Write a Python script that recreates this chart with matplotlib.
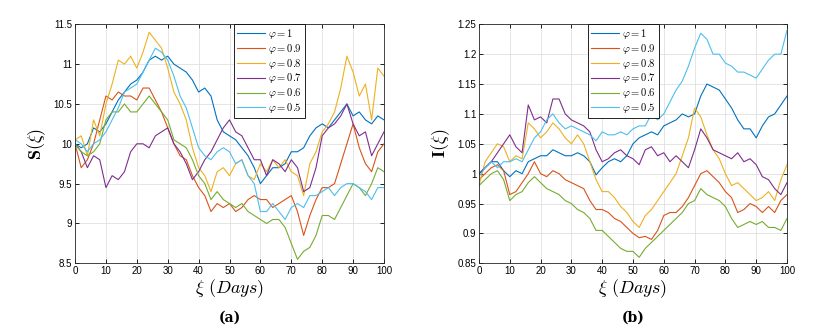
import numpy as np
import matplotlib
matplotlib.use("Agg")
import matplotlib.pyplot as plt

plt.rcParams['mathtext.fontset'] = 'cm'
plt.rcParams['font.family'] = ['Liberation Sans', 'DejaVu Sans']

# --- data (every 2 days) ---
days = np.arange(0, 101, 2)
phi_labels = [r'$\varphi = 1$', r'$\varphi = 0.9$', r'$\varphi = 0.8$',
              r'$\varphi = 0.7$', r'$\varphi = 0.6$', r'$\varphi = 0.5$']

S_phi10 = [10.0, 9.95, 10.0, 10.2, 10.15, 10.25, 10.4, 10.55, 10.65, 10.75, 10.8,
           10.9, 11.05, 11.1, 11.05, 11.1, 11.0, 10.95, 10.9, 10.8, 10.65, 10.7,
           10.6, 10.3, 10.15, 10.1, 10.05, 9.95, 9.85, 9.7, 9.5, 9.6, 9.7, 9.7,
           9.75, 9.9, 9.9, 9.95, 10.1, 10.2, 10.25, 10.2, 10.3, 10.4, 10.5, 10.35,
           10.4, 10.3, 10.25, 10.35, 10.3]
S_phi09 = [10.0, 9.7, 9.8, 10.0, 10.3, 10.6, 10.55, 10.65, 10.6, 10.6, 10.55,
           10.7, 10.7, 10.55, 10.4, 10.2, 10.0, 9.85, 9.8, 9.6, 9.45, 9.35, 9.15,
           9.25, 9.2, 9.25, 9.15, 9.2, 9.3, 9.35, 9.3, 9.3, 9.2, 9.25, 9.3, 9.35,
           9.15, 8.85, 9.1, 9.3, 9.45, 9.45, 9.5, 9.75, 10.0, 10.25, 9.95, 9.75,
           9.65, 9.9, 10.0]
S_phi08 = [10.05, 10.1, 9.85, 10.3, 10.1, 10.5, 10.75, 11.05, 11.0, 11.1, 10.95,
           11.15, 11.4, 11.3, 11.2, 10.95, 10.65, 10.5, 10.3, 9.95, 9.7, 9.6, 9.4,
           9.65, 9.7, 9.6, 9.75, 9.8, 9.6, 9.55, 9.75, 9.65, 9.8, 9.7, 9.8, 9.65,
           9.6, 9.35, 9.75, 9.9, 10.15, 10.25, 10.4, 10.7, 11.1, 10.9, 10.6, 10.75,
           10.3, 10.95, 10.85]
S_phi07 = [10.0, 9.9, 9.7, 9.85, 9.8, 9.45, 9.6, 9.55, 9.65, 9.9, 10.0, 10.0,
           9.95, 10.1, 10.15, 10.2, 10.0, 9.9, 9.75, 9.55, 9.65, 9.8, 9.9, 10.05,
           10.2, 10.3, 10.15, 10.1, 9.95, 9.8, 9.8, 9.6, 9.8, 9.75, 9.65, 9.8, 9.7,
           9.4, 9.45, 9.7, 10.1, 10.2, 10.25, 10.35, 10.5, 10.25, 10.1, 10.15,
           9.85, 10.0, 10.15]
S_phi06 = [10.0, 9.9, 9.85, 9.9, 10.0, 10.3, 10.4, 10.4, 10.5, 10.4, 10.4, 10.5,
           10.6, 10.5, 10.4, 10.3, 10.05, 10.0, 9.95, 9.8, 9.6, 9.5, 9.3, 9.4,
           9.3, 9.25, 9.2, 9.25, 9.15, 9.1, 9.05, 9.0, 9.05, 9.05, 8.95, 8.75,
           8.55, 8.65, 8.7, 8.85, 9.1, 9.1, 9.05, 9.2, 9.35, 9.5, 9.45, 9.35, 9.5,
           9.7, 9.65]
S_phi05 = [10.05, 10.0, 9.9, 10.0, 10.05, 10.15, 10.3, 10.45, 10.65, 10.7, 10.75,
           10.9, 11.05, 11.2, 11.15, 11.05, 10.85, 10.6, 10.45, 10.2, 9.95, 9.85,
           9.8, 9.9, 9.95, 9.9, 9.75, 9.8, 9.6, 9.5, 9.15, 9.15, 9.25, 9.15, 9.05,
           9.2, 9.25, 9.2, 9.35, 9.35, 9.4, 9.45, 9.35, 9.45, 9.5, 9.5, 9.45, 9.4,
           9.3, 9.45, 9.45]

I_phi10 = [1.0, 1.01, 1.02, 1.02, 1.005, 0.995, 1.005, 1.0, 1.02, 1.025, 1.03,
           1.03, 1.04, 1.035, 1.03, 1.03, 1.035, 1.03, 1.02, 0.998, 1.01, 1.02,
           1.025, 1.02, 1.03, 1.05, 1.06, 1.065, 1.07, 1.065, 1.08, 1.085, 1.09,
           1.1, 1.095, 1.1, 1.13, 1.15, 1.145, 1.14, 1.125, 1.11, 1.09, 1.075,
           1.075, 1.06, 1.08, 1.095, 1.1, 1.115, 1.13]
I_phi09 = [0.99, 1.0, 1.01, 1.015, 1.005, 0.965, 0.97, 0.985, 1.0, 1.02, 1.0,
           0.995, 1.005, 1.0, 0.99, 0.985, 0.98, 0.975, 0.955, 0.94, 0.94, 0.935,
           0.925, 0.92, 0.91, 0.9, 0.893, 0.895, 0.89, 0.905, 0.93, 0.935, 0.935,
           0.945, 0.96, 0.98, 1.0, 1.005, 0.995, 0.985, 0.97, 0.96, 0.935, 0.94,
           0.95, 0.945, 0.935, 0.945, 0.935, 0.955, 0.965]
I_phi08 = [0.98, 1.02, 1.035, 1.05, 1.045, 1.02, 1.03, 1.025, 1.085, 1.075, 1.06,
           1.07, 1.085, 1.075, 1.06, 1.05, 1.065, 1.05, 1.02, 0.99, 0.97, 0.97,
           0.96, 0.945, 0.935, 0.92, 0.91, 0.93, 0.94, 0.955, 0.97, 0.985, 1.0,
           1.03, 1.06, 1.11, 1.095, 1.065, 1.04, 1.025, 1.0, 0.98, 0.985, 0.975,
           0.965, 0.955, 0.96, 0.97, 0.955, 0.99, 1.015]
I_phi07 = [1.0, 1.01, 1.02, 1.035, 1.05, 1.065, 1.045, 1.035, 1.115, 1.09, 1.095,
           1.085, 1.125, 1.125, 1.1, 1.09, 1.085, 1.08, 1.07, 1.04, 1.02, 1.025,
           1.035, 1.04, 1.03, 1.025, 1.015, 1.04, 1.045, 1.03, 1.035, 1.02, 1.03,
           1.02, 1.01, 1.04, 1.075, 1.06, 1.04, 1.035, 1.03, 1.025, 1.035, 1.02,
           1.025, 1.015, 0.995, 0.99, 0.975, 0.965, 0.985]
I_phi06 = [0.98, 0.99, 1.0, 1.005, 0.99, 0.955, 0.965, 0.97, 0.985, 0.995, 0.985,
           0.975, 0.97, 0.965, 0.955, 0.95, 0.94, 0.935, 0.925, 0.905, 0.905,
           0.895, 0.885, 0.875, 0.87, 0.87, 0.86, 0.875, 0.885, 0.895, 0.905,
           0.915, 0.925, 0.935, 0.95, 0.955, 0.975, 0.965, 0.96, 0.955, 0.945,
           0.925, 0.91, 0.915, 0.92, 0.915, 0.92, 0.91, 0.91, 0.905, 0.925]
I_phi05 = [0.995, 1.01, 1.02, 1.01, 1.02, 1.02, 1.025, 1.02, 1.04, 1.06, 1.07,
           1.09, 1.1, 1.085, 1.075, 1.08, 1.075, 1.07, 1.065, 1.055, 1.07, 1.065,
           1.065, 1.07, 1.065, 1.075, 1.08, 1.08, 1.1, 1.09, 1.1, 1.12, 1.14,
           1.155, 1.18, 1.21, 1.235, 1.225, 1.2, 1.2, 1.185, 1.18, 1.17, 1.17,
           1.165, 1.16, 1.175, 1.19, 1.2, 1.2, 1.24]

S_all = [S_phi10, S_phi09, S_phi08, S_phi07, S_phi06, S_phi05]
I_all = [I_phi10, I_phi09, I_phi08, I_phi07, I_phi06, I_phi05]
colors = ['#0072BD', '#D95319', '#EDB120', '#7E2F8E', '#77AC30', '#4DBEEE']

fig = plt.figure(figsize=(8.21, 3.35), dpi=100)
ax1 = fig.add_axes([0.0914, 0.214, 0.3763, 0.7135])
ax2 = fig.add_axes([0.5834, 0.214, 0.3752, 0.7135])


def style(ax, ylim, yticks, ylabel, caption, leg_x):
    ax.set_xlim(0, 100)
    ax.set_ylim(*ylim)
    ax.set_xticks(np.arange(0, 101, 10))
    ax.set_yticks(yticks)
    ax.set_yticklabels([f"{t:g}" for t in yticks])
    ax.tick_params(direction='in', top=True, right=True, labelsize=7,
                   length=3, width=0.6, pad=2)
    ax.grid(True, color='#e0e0e0', linewidth=0.6)
    ax.set_axisbelow(True)
    for sp in ax.spines.values():
        sp.set_linewidth(0.6)
        sp.set_color('#262626')
    ax.set_xlabel(r'$\xi\ (Days)$', fontsize=13, labelpad=1)
    ax.set_ylabel(ylabel, fontsize=13, labelpad=4)
    ax.text(0.5, -0.229, caption, transform=ax.transAxes, ha='center', va='center',
            fontsize=10, fontweight='bold', family='DejaVu Serif')
    leg = ax.legend(loc='upper left', bbox_to_anchor=(leg_x, 1.0), fontsize=7.6,
                    fancybox=False, edgecolor='black', framealpha=1,
                    handlelength=2.7, borderpad=0.25, labelspacing=0.08,
                    handletextpad=0.3, borderaxespad=0)
    leg.get_frame().set_linewidth(0.6)


for vals, c, lab in zip(S_all, colors, phi_labels):
    ax1.plot(days, vals, color=c, linewidth=0.8, label=lab)
for vals, c, lab in zip(I_all, colors, phi_labels):
    ax2.plot(days, vals, color=c, linewidth=0.8, label=lab)

style(ax1, (8.5, 11.5), [8.5, 9, 9.5, 10, 10.5, 11, 11.5],
      r'$\mathbf{S}(\xi)$', '(a)', 0.515)
style(ax2, (0.85, 1.25), [0.85, 0.9, 0.95, 1, 1.05, 1.1, 1.15, 1.2, 1.25],
      r'$\mathbf{I}(\xi)$', '(b)', 0.354)

fig.savefig('out.png', dpi=100)
